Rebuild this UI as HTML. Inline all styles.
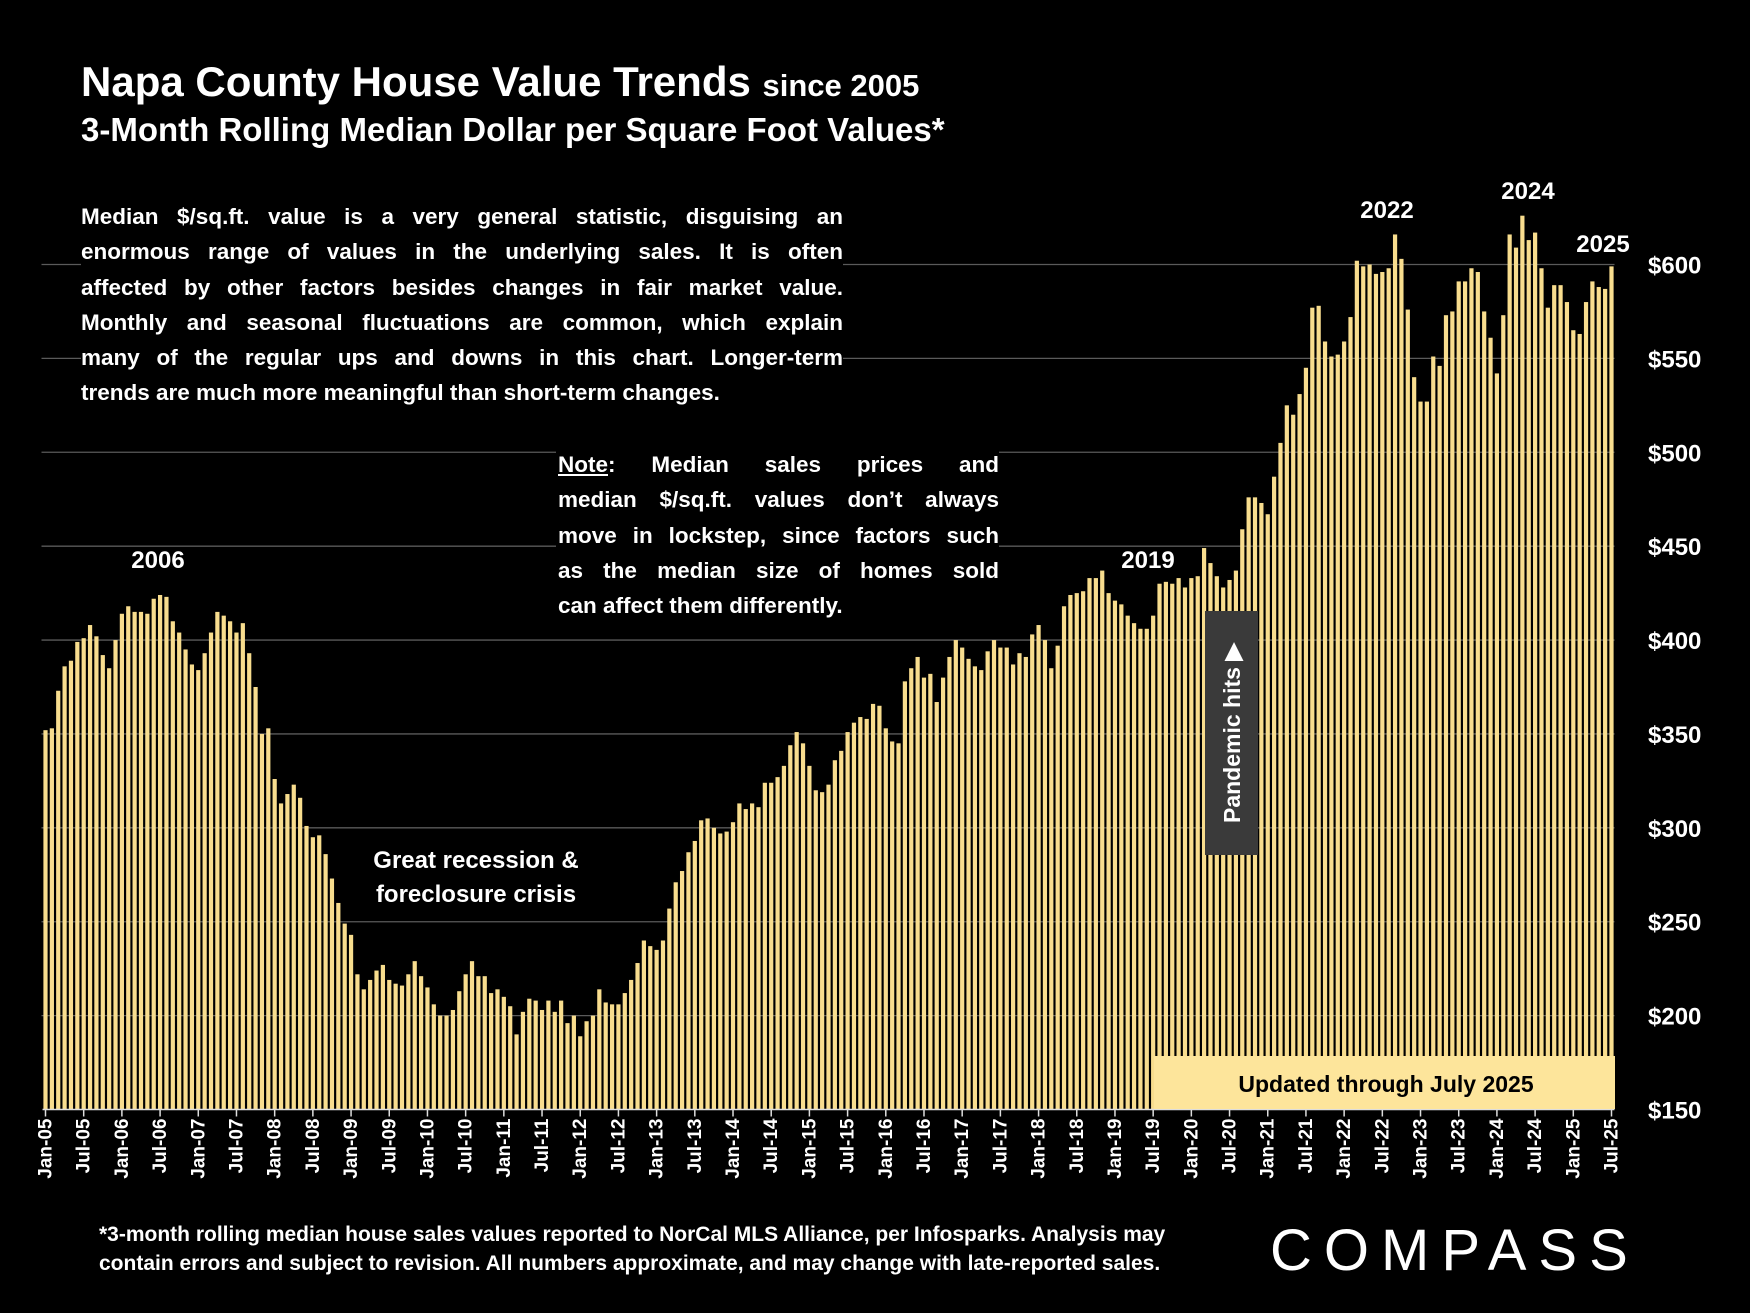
<!DOCTYPE html>
<html><head><meta charset="utf-8">
<style>
html,body{margin:0;padding:0;background:#000;}
body{width:1750px;height:1313px;position:relative;overflow:hidden;font-family:"Liberation Sans",sans-serif;color:#fff;}
.t{position:absolute;font-weight:bold;}
.para{position:absolute;background:#000;font-weight:bold;font-size:22.5px;line-height:35.3px;}
.para div{text-align:justify;text-align-last:justify;white-space:nowrap;}
.para div.last{text-align-last:left;}
</style></head>
<body>
<svg id="chart" width="1750" height="1313" style="position:absolute;left:0;top:0"></svg>

<div class="t" style="left:81px;top:58px;font-size:42px;">Napa County House Value Trends <span style="font-size:31px">since 2005</span></div>
<div class="t" style="left:81px;top:111px;font-size:33px;">3-Month Rolling Median Dollar per Square Foot Values*</div>

<div class="para" style="left:81px;top:199px;width:762px;">
<div>Median $/sq.ft. value is a very general statistic, disguising an</div>
<div>enormous range of values in the underlying sales. It is often</div>
<div>affected by other factors besides changes in fair market value.</div>
<div>Monthly and seasonal fluctuations are common, which explain</div>
<div>many of the regular ups and downs in this chart. Longer-term</div>
<div class="last">trends are much more meaningful than short-term changes.</div>
</div>
<div class="para" style="left:556px;top:447px;width:441px;padding-left:2px;">
<div><u>Note</u>: Median sales prices and</div>
<div>median $/sq.ft. values don’t always</div>
<div>move in lockstep, since factors such</div>
<div>as the median size of homes sold</div>
<div class="last">can affect them differently.</div>
</div>

<div class="t" style="left:99px;top:1220px;font-size:21px;line-height:29px;">*3-month rolling median house sales values reported to NorCal MLS Alliance, per Infosparks. Analysis may<br>contain errors and subject to revision. All numbers approximate, and may change with late-reported sales.</div>
<div style="position:absolute;left:1270px;top:1217px;font-size:58px;letter-spacing:12px;color:#fff;font-family:'Liberation Sans',sans-serif;">COMPASS</div>

<script>
const months=["Jan","Jul"];
const values2005=[352,353,373,386,389,399,401,408,402,392,385,400];
const values2006=[414,418,415,415,414,422,424,423,410,404,395,387];
const values2007=[384,393,404,415,413,410,404,409,393,375,350,353];
const values2008=[326,313,318,323,316,301,295,296,286,273,260,249];
const values2009=[243,222,214,219,224,227,219,217,216,222,229,221];
const values2010=[215,206,200,200,203,213,222,229,221,221,212,214];
const values2011=[210,205,190,202,209,208,203,208,202,208,196,200];
const values2012=[189,197,200,214,207,206,206,212,219,228,240,237];
const values2013=[235,240,257,271,277,287,293,304,305,300,297,298];
const values2014=[303,313,310,313,311,324,324,327,333,344,351,345];
const values2015=[333,320,319,323,336,341,351,356,359,358,366,365];
const values2016=[353,346,345,378,385,391,380,382,367,380,391,400];
const values2017=[396,390,386,384,394,400,396,396,387,393,391,403];
const values2018=[408,400,385,397,418,424,425,426,433,433,437,425];
const values2019=[421,419,413,409,406,406,413,430,431,430,433,428];
const values2020=[433,434,449,441,434,428,432,437,459,476,476,473];
const values2021=[467,487,505,525,520,531,545,577,578,559,551,552];
const values2022=[559,572,602,599,600,595,596,598,616,603,576,540];
const values2023=[527,527,551,546,573,575,591,591,598,596,575,561];
const values2024=[542,573,616,609,626,613,617,598,577,589,589,580];
const values2025=[565,563,580,591,588,587,599];
const yTicks=[150,200,250,300,350,400,450,500,550,600];
const startYear=2005;

const values=[].concat(values2005,values2006,values2007,values2008,values2009,values2010,values2011,values2012,values2013,values2014,values2015,values2016,values2017,values2018,values2019,values2020,values2021,values2022,values2023,values2024,values2025);

const svg=document.getElementById('chart');
const NS="http://www.w3.org/2000/svg";
const X0=45.5,X1=1611.5,Y0=1109.5,Y1=264.5;
const n=values.length;
const step=(X1-X0)/(n-1);
function xs(i){return X0+i*step;}
function ys(v){return Y0-(v-150)*(Y0-Y1)/450;}
function mk(tag,attrs){const e=document.createElementNS(NS,tag);for(const k in attrs)e.setAttribute(k,attrs[k]);svg.appendChild(e);return e;}

yTicks.forEach(v=>{
  if(v>150){
    const g=mk('line',{x1:X0-4,x2:X1+3,y1:ys(v),y2:ys(v),stroke:'#5a5a5a','stroke-width':1.3});
    
    
  }
  const t=mk('text',{x:1648,y:ys(v)+9,fill:'#fff','font-size':24,'font-family':'Liberation Sans, sans-serif','font-weight':'bold'});
  t.textContent='$'+v;
  
  
});
values.forEach((v,i)=>{
  const b=mk('rect',{x:xs(i)-2.1,y:ys(v),width:4.2,height:Y0-ys(v),fill:'#f8dd8e'});
  
  
});
const ax=mk('line',{x1:X0-3,x2:X1+3,y1:Y0,y2:Y0,stroke:'#ddd','stroke-width':1.5});


for(let i=0;i<n;i+=6){
  const tk=mk('line',{x1:xs(i),x2:xs(i),y1:Y0,y2:Y0+7,stroke:'#ddd','stroke-width':1.5});
  
  
  const yr=String(startYear+Math.floor(i/12)).slice(2);
  const t=mk('text',{x:0,y:0,fill:'#fff','font-size':19,'font-weight':'bold','font-family':'Liberation Sans, sans-serif','text-anchor':'end',transform:'translate('+(xs(i)+6)+','+(Y0+9)+') rotate(-90)'});
  t.textContent=months[(i/6)%2]+'-'+yr;
  
  
}
function lab(x,y,txt,name,size,anchor){const t=mk('text',{x:x,y:y,fill:'#fff','font-size':size||24,'font-weight':'bold','font-family':'Liberation Sans, sans-serif','text-anchor':anchor||'middle'});t.textContent=txt;return t;}
lab(158,568,'2006','label-2006');
lab(1148,568,'2019','label-2019');
lab(1387,218,'2022','label-2022');
lab(1528,199,'2024','label-2024');
lab(1603,252,'2025','label-2025');
lab(476,868,'Great recession &','recession-label-line1');
lab(476,902,'foreclosure crisis','recession-label-line2');
const pb=mk('rect',{x:1205,y:611,width:53,height:244,fill:'#3a3a3a'});


const pt=mk('text',{x:0,y:0,fill:'#fff','font-size':23,'font-weight':'bold','font-family':'Liberation Sans, sans-serif','text-anchor':'middle',transform:'translate(1240,733) rotate(-90)'});
pt.textContent='Pandemic hits ▶';


const ub=mk('rect',{x:1154,y:1056,width:461,height:53,fill:'#fde59b'});


const ut=mk('text',{x:1386,y:1092,fill:'#000','font-size':23,'font-weight':'bold','font-family':'Liberation Sans, sans-serif','text-anchor':'middle'});
ut.textContent='Updated through July 2025';


</script>
</body></html>
